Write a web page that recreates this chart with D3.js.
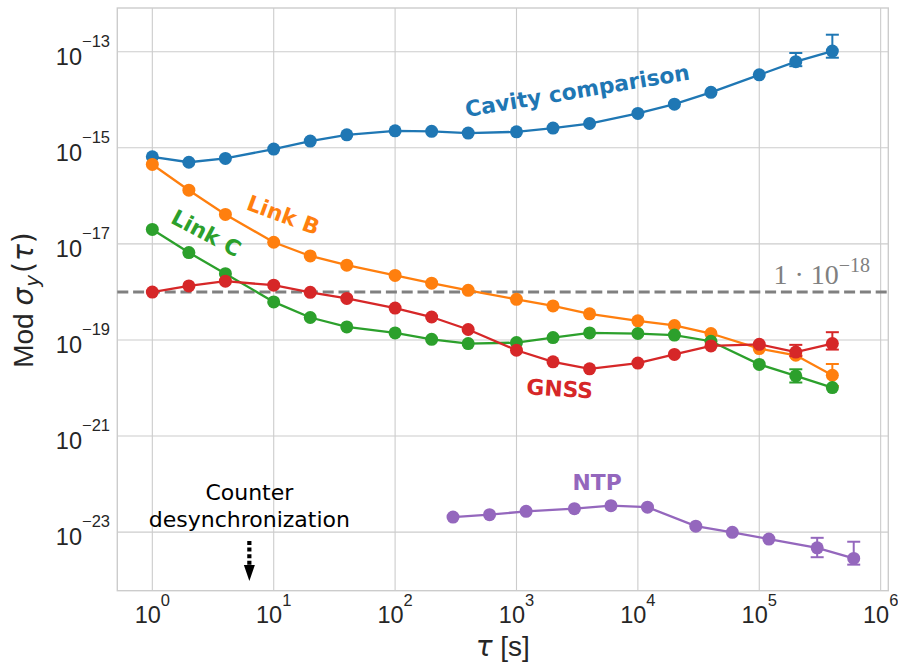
<!DOCTYPE html>
<html>
<head>
<meta charset="utf-8">
<script src="https://cdn.jsdelivr.net/npm/d3@7"></script>
<style>
html,body{margin:0;padding:0;background:#fff;}
svg{display:block;}
</style>
</head>
<body>
<svg id="chart" width="898" height="664"></svg>
<script>
// ---------- data ----------
const tauMain = [1,2,4,10,20,40,100,200,400,1000,2000,4000,10000,20000,40000,100000,200000,400000];
const cavity = [6.5e-16,5.0e-16,6.0e-16,9.4e-16,1.38e-15,1.86e-15,2.26e-15,2.2e-15,2.02e-15,2.15e-15,2.57e-15,3.2e-15,5.2e-15,8.1e-15,1.43e-14,3.3e-14,6.2e-14,1.03e-13];
const linkB = [4.5e-16,1.31e-16,4.1e-17,1.08e-17,5.6e-18,3.6e-18,2.2e-18,1.52e-18,1.08e-18,7.0e-19,5.1e-19,3.5e-19,2.5e-19,2.0e-19,1.36e-19,6.6e-20,4.8e-20,1.84e-20];
const linkC = [2.0e-17,6.6e-18,2.4e-18,6.2e-19,2.93e-19,1.87e-19,1.4e-19,1.03e-19,8.4e-20,8.8e-20,1.12e-19,1.4e-19,1.36e-19,1.26e-19,9.4e-20,3.1e-20,1.78e-20,1.02e-20];
const gnss = [9.9e-19,1.33e-18,1.67e-18,1.38e-18,9.8e-19,7.3e-19,4.6e-19,3.0e-19,1.65e-19,6.1e-20,3.5e-20,2.5e-20,3.3e-20,5.0e-20,7.5e-20,8.1e-20,5.6e-20,8.4e-20];
const tauNtp = [300,600,1200,3000,6000,12000,30000,60000,120000,300000,600000];
const ntp = [2.05e-23,2.3e-23,2.7e-23,3.07e-23,3.55e-23,3.3e-23,1.33e-23,9.9e-24,7.15e-24,4.7e-24,2.83e-24];

// error bars (tau, lower, upper)
const cavityErrTau = [200000,400000], cavityErrLo = [5.0e-14,7.5e-14], cavityErrHi = [9.4e-14,2.26e-13];
const linkBErrTau = [400000], linkBErrLo = [1.1e-20], linkBErrHi = [3.16e-20];
const linkCErrTau = [200000], linkCErrLo = [1.3e-20], linkCErrHi = [2.45e-20];
const gnssErrTau = [200000,400000], gnssErrLo = [4.6e-20,6.3e-20], gnssErrHi = [7.9e-20,1.45e-19];
const ntpErrTau = [300000,600000], ntpErrLo = [3.0e-24,2.1e-24], ntpErrHi = [7.6e-24,6.3e-24];

const xTickVals = [1,10,100,1000,10000,100000,1000000];
const xTickExp = ["0","1","2","3","4","5","6"];
const yTickVals = [1e-23,1e-21,1e-19,1e-17,1e-15,1e-13];
const yTickExp = ["\u221223","\u221221","\u221219","\u221217","\u221215","\u221213"];

const seriesNames = ["Cavity comparison","Link B","Link C","GNSS","NTP"];
const colors = ["#1f77b4","#ff7f0e","#2ca02c","#d62728","#9467bd"];
const threshold = 1e-18;
const counterTau = 6.3;

// series label anchors (data coords) and rotations
const labelTau = [3250, 11.4, 2.6, 2254, 4620];
const labelVal = [1.08e-14, 2.83e-17, 1.21e-17, 6.7e-21, 7.4e-23];
const labelRot = [-9.5, 20.4, 27.9, 3.5, 0];

// ---------- layout ----------
const L = 117.3, R = 888.3, T = 8, B = 590.7;
const x = d3.scaleLog().domain([Math.pow(10,-0.2885), Math.pow(10,6.063)]).range([L,R]);
const y = d3.scaleLog().domain([Math.pow(10,-24.22), Math.pow(10,-12.09)]).range([B,T]);

const svg = d3.select("#chart");
const sansTick = "'Liberation Sans', Arial, sans-serif";
const sansAnn = "'DejaVu Sans', sans-serif";

// grid
const grid = svg.append("g");
grid.selectAll("line.gx").data(xTickVals).enter().append("line")
  .attr("x1", d=>x(d)).attr("x2", d=>x(d)).attr("y1", T).attr("y2", B)
  .attr("stroke", "#cccccc").attr("stroke-width", 1.1);
grid.selectAll("line.gy").data(yTickVals).enter().append("line")
  .attr("y1", d=>y(d)).attr("y2", d=>y(d)).attr("x1", L).attr("x2", R)
  .attr("stroke", "#cccccc").attr("stroke-width", 1.1);

// frame
svg.append("rect").attr("x", L).attr("y", T).attr("width", R-L).attr("height", B-T)
  .attr("fill", "none").attr("stroke", "#cccccc").attr("stroke-width", 1.4);

// tick labels
const xt = svg.append("g").attr("font-family", sansTick).attr("fill", "#262626");
xTickVals.forEach((v,i)=>{
  const t = xt.append("text").attr("x", x(v)).attr("y", 623.3).attr("text-anchor","middle");
  t.append("tspan").attr("font-size", 23.5).text("10");
  t.append("tspan").attr("font-size", 16.5).attr("dy", -17).text(xTickExp[i]);
});
const yt = svg.append("g").attr("font-family", sansTick).attr("fill", "#262626");
yTickVals.forEach((v,i)=>{
  const t = yt.append("text").attr("x", 110).attr("y", y(v)+13.3).attr("text-anchor","end");
  t.append("tspan").attr("font-size", 23.5).text("10");
  t.append("tspan").attr("font-size", 16.5).attr("dy", -18.5).text(yTickExp[i]);
});

// axis labels
const yl = svg.append("text").attr("transform", `translate(33,300) rotate(-90)`)
  .attr("text-anchor","middle").attr("font-family", sansTick).attr("font-size", 28).attr("fill","#262626");
yl.append("tspan").text("Mod ");
yl.append("tspan").attr("font-style","italic").attr("font-family", sansAnn).text("\u03c3");
yl.append("tspan").attr("font-style","italic").attr("font-family", sansAnn).attr("font-size", 20).attr("dx", 1).attr("dy", 6).text("y");
yl.append("tspan").attr("font-family", sansAnn).attr("dx", 2).attr("dy", -6).text("(");
yl.append("tspan").attr("font-style","italic").attr("font-family", sansAnn).attr("dx", 1).text("\u03c4");
yl.append("tspan").attr("font-family", sansAnn).attr("dx", 1).text(")");

const xl = svg.append("text").attr("x", (L+R)/2).attr("y", 656)
  .attr("text-anchor","middle").attr("font-family", sansTick).attr("font-size", 28).attr("fill","#262626");
xl.append("tspan").attr("font-style","italic").attr("font-family", sansAnn).text("\u03c4");
xl.append("tspan").text(" [s]");

// threshold line
svg.append("line").attr("x1", L).attr("x2", R).attr("y1", y(threshold)).attr("y2", y(threshold))
  .attr("stroke", "#808080").attr("stroke-width", 3).attr("stroke-dasharray", "11,4.8");
const thr = svg.append("text").attr("x", 870).attr("y", y(threshold)-8.3).attr("text-anchor","end")
  .attr("font-family", "'Liberation Serif','DejaVu Serif',serif").attr("fill", "#808080");
thr.append("tspan").attr("font-size", 28).text("1 \u00b7 10");
thr.append("tspan").attr("font-size", 20).attr("dy", -12).text("\u221218");

// series
const series = [
  {tau: tauMain, val: cavity, eT: cavityErrTau, eL: cavityErrLo, eH: cavityErrHi},
  {tau: tauMain, val: linkB, eT: linkBErrTau, eL: linkBErrLo, eH: linkBErrHi},
  {tau: tauMain, val: linkC, eT: linkCErrTau, eL: linkCErrLo, eH: linkCErrHi},
  {tau: tauMain, val: gnss, eT: gnssErrTau, eL: gnssErrLo, eH: gnssErrHi},
  {tau: tauNtp, val: ntp, eT: ntpErrTau, eL: ntpErrLo, eH: ntpErrHi}
];
const line = d3.line().x(d=>x(d[0])).y(d=>y(d[1]));
series.forEach((s,i)=>{
  const g = svg.append("g");
  const pts = s.tau.map((t,j)=>[t, s.val[j]]);
  g.append("path").attr("d", line(pts)).attr("fill","none").attr("stroke", colors[i]).attr("stroke-width", 2.3);
  s.eT.forEach((t,j)=>{
    const cx = x(t);
    g.append("line").attr("x1",cx).attr("x2",cx).attr("y1",y(s.eL[j])).attr("y2",y(s.eH[j]))
      .attr("stroke",colors[i]).attr("stroke-width",2);
    [s.eL[j], s.eH[j]].forEach(v=>{
      g.append("line").attr("x1",cx-6.5).attr("x2",cx+6.5).attr("y1",y(v)).attr("y2",y(v))
        .attr("stroke",colors[i]).attr("stroke-width",2);
    });
  });
  g.selectAll("circle").data(pts).enter().append("circle")
    .attr("cx", d=>x(d[0])).attr("cy", d=>y(d[1])).attr("r", 6.5).attr("fill", colors[i]);
});

// series labels
seriesNames.forEach((n,i)=>{
  svg.append("text").attr("transform", `translate(${x(labelTau[i])},${y(labelVal[i])}) rotate(${labelRot[i]})`)
    .attr("text-anchor","middle").attr("font-family", sansAnn).attr("font-weight","bold")
    .attr("font-size", 21.8).attr("fill", colors[i]).text(n);
});

// counter desynchronization annotation
const cx0 = x(counterTau);
const ann = svg.append("text").attr("text-anchor","middle").attr("font-family", sansAnn)
  .attr("font-size", 22).attr("fill","#000");
ann.append("tspan").attr("x", cx0).attr("y", 500).text("Counter");
ann.append("tspan").attr("x", cx0).attr("y", 527.3).text("desynchronization");
svg.append("line").attr("x1", cx0).attr("x2", cx0).attr("y1", 541).attr("y2", 565)
  .attr("stroke","#000").attr("stroke-width", 4.2).attr("stroke-dasharray","4,2.6");
svg.append("path").attr("d", `M${cx0-5.5},565 L${cx0+5.5},565 L${cx0},581 Z`).attr("fill","#000");
</script>
</body>
</html>
